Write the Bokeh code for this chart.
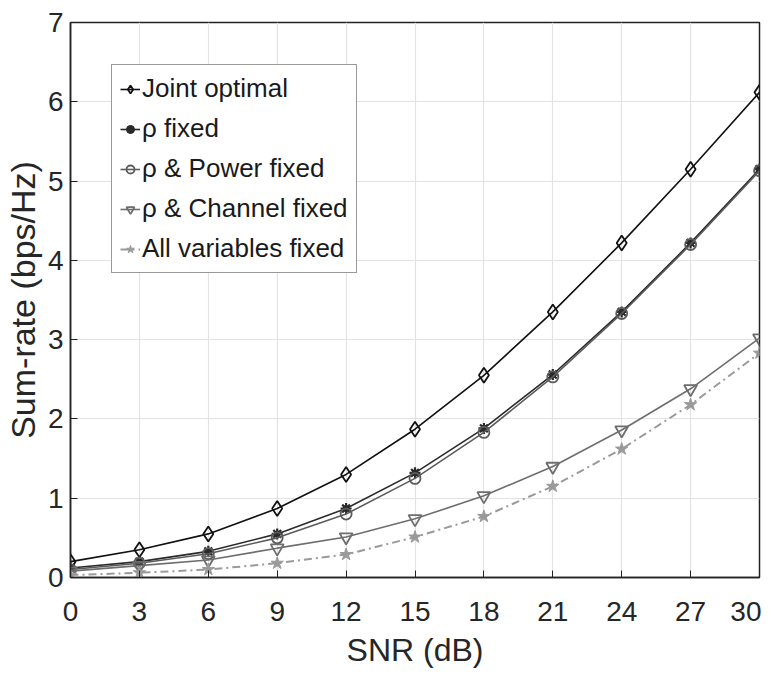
from bokeh.plotting import figure
from bokeh.models import Legend, LegendItem, FixedTicker, Range1d
from bokeh.embed import file_html
from bokeh.resources import INLINE

snr = [0, 3, 6, 9, 12, 15, 18, 21, 24, 27, 30]
joint_optimal = [0.20, 0.35, 0.55, 0.87, 1.30, 1.87, 2.55, 3.35, 4.22, 5.15, 6.12]
rho_fixed = [0.12, 0.20, 0.33, 0.55, 0.87, 1.32, 1.88, 2.56, 3.35, 4.22, 5.15]
rho_power_fixed = [0.10, 0.18, 0.30, 0.50, 0.80, 1.25, 1.83, 2.53, 3.33, 4.20, 5.13]
rho_channel_fixed = [0.08, 0.15, 0.22, 0.37, 0.51, 0.74, 1.03, 1.40, 1.86, 2.38, 3.02]
all_fixed = [0.03, 0.06, 0.10, 0.18, 0.29, 0.51, 0.77, 1.15, 1.62, 2.18, 2.83]

x_ticks = [0, 3, 6, 9, 12, 15, 18, 21, 24, 27, 30]
y_ticks = [0, 1, 2, 3, 4, 5, 6, 7]

FONT = "Liberation Sans"

p = figure(output_backend="svg", toolbar_location=None,
           x_range=Range1d(0, 30), y_range=Range1d(0, 7),
           frame_width=689, frame_height=555,
           min_border_left=70, min_border_right=2, min_border_top=22, min_border_bottom=8)
p.background_fill_color = "white"
p.outline_line_color = "#222222"
p.outline_line_width = 1.5

for ax in (p.xaxis[0], p.yaxis[0]):
    ax.major_label_text_font = FONT
    ax.major_label_text_font_size = "28px"
    ax.major_label_text_color = "#262626"
    ax.axis_label_text_font = FONT
    ax.axis_label_text_font_style = "normal"
    ax.axis_label_text_color = "#262626"
    ax.major_tick_in = 7
    ax.major_tick_out = 0
    ax.minor_tick_line_color = None
    ax.axis_line_color = "#222222"
    ax.axis_line_width = 1.5
    ax.major_tick_line_color = "#222222"

p.xaxis[0].ticker = FixedTicker(ticks=x_ticks)
p.yaxis[0].ticker = FixedTicker(ticks=y_ticks)
p.xaxis[0].axis_label = "SNR (dB)"
p.yaxis[0].axis_label = "Sum-rate (bps/Hz)"
p.xaxis[0].axis_label_text_font_size = "32px"
p.yaxis[0].axis_label_text_font_size = "34px"
p.xaxis[0].major_label_standoff = 24
p.yaxis[0].major_label_standoff = 7
p.xaxis[0].axis_label_standoff = 8
p.yaxis[0].axis_label_standoff = 3

p.xgrid.ticker = FixedTicker(ticks=x_ticks)
p.ygrid.ticker = FixedTicker(ticks=y_ticks)
p.grid.grid_line_color = "#e3e3e3"
p.grid.grid_line_width = 1.2

items = []

c1 = "#111111"
l1 = p.line(snr, joint_optimal, line_color=c1, line_width=1.6)
m1 = p.scatter(snr, joint_optimal, marker="diamond", size=15, line_color=c1,
               fill_color=None, line_width=1.8)
items.append(LegendItem(label="Joint optimal", renderers=[l1, m1]))

c2 = "#2a2a2a"
l2 = p.line(snr, rho_fixed, line_color=c2, line_width=1.6)
m2 = p.scatter(snr, rho_fixed, marker="asterisk", size=11, line_color=c2, line_width=2.2)
m2b = p.scatter(snr, rho_fixed, marker="circle", size=6, line_color=c2, fill_color=c2)
items.append(LegendItem(label="ρ fixed", renderers=[l2, m2, m2b]))

c3 = "#5c5c5c"
l3 = p.line(snr, rho_power_fixed, line_color=c3, line_width=1.6)
m3 = p.scatter(snr, rho_power_fixed, marker="circle", size=11, line_color=c3,
               fill_color=None, line_width=1.8)
items.append(LegendItem(label="ρ & Power fixed", renderers=[l3, m3]))

c4 = "#6e6e6e"
l4 = p.line(snr, rho_channel_fixed, line_color=c4, line_width=1.6)
m4 = p.scatter(snr, rho_channel_fixed, marker="inverted_triangle", size=13, line_color=c4,
               fill_color=None, line_width=1.8)
items.append(LegendItem(label="ρ & Channel fixed", renderers=[l4, m4]))

c5 = "#9a9a9a"
l5 = p.line(snr, all_fixed, line_color=c5, line_width=2, line_dash="8 4 2 4")
m5 = p.scatter(snr, all_fixed, marker="star", size=13, line_color=c5, fill_color=c5, line_width=1)
items.append(LegendItem(label="All variables fixed", renderers=[l5, m5]))

legend = Legend(items=items, location=(41, 304))
legend.label_text_font = FONT
legend.label_text_font_size = "26px"
legend.label_text_color = "#1a1a1a"
legend.glyph_width = 20
legend.glyph_height = 30
legend.label_height = 30
legend.spacing = 9
legend.padding = 8
legend.margin = 0
legend.label_standoff = 2
legend.border_line_color = "#333333"
legend.border_line_width = 1.5
legend.background_fill_alpha = 1
p.add_layout(legend, "center")

open("out.html", "w").write(file_html(p, INLINE))
